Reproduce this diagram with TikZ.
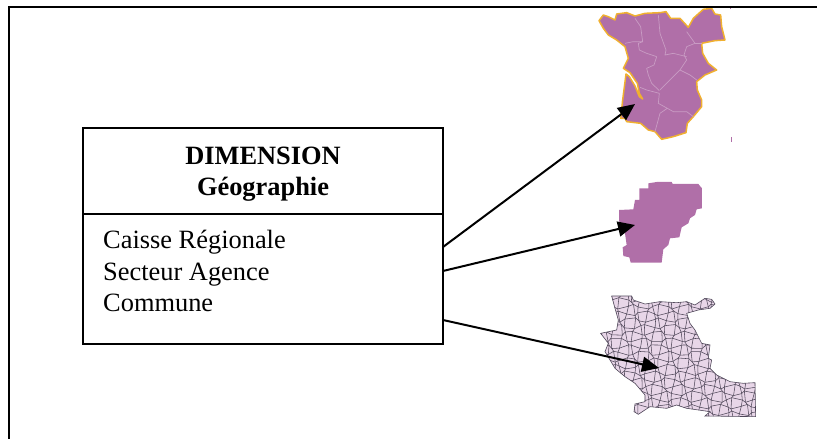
\documentclass[tikz,border=0pt]{standalone}
\usepackage{fontspec}
\setmainfont{Liberation Serif}
\usetikzlibrary{arrows.meta}
\definecolor{mapclr}{HTML}{B06FA8}
\definecolor{mapline}{HTML}{C99CC4}
\definecolor{mapedge}{HTML}{F0B030}
\definecolor{communeclr}{HTML}{E8D6E8}
\definecolor{communeline}{HTML}{50485A}
\newcommand{\communeoutline}{(125,48) -- (185,48) -- (190,60) -- (225,72) -- (270,65) -- (320,68) -- (350,65) -- (375,75) -- (405,55) -- (425,58) -- (435,72) -- (420,85) -- (385,90) -- (350,100) -- (360,130) -- (375,150) -- (395,190) -- (420,195) -- (415,235) -- (425,240) -- (420,265) -- (440,285) -- (480,305) -- (520,310) -- (555,308) -- (557,410) -- (405,408) -- (420,395) -- (385,390) -- (350,385) -- (320,375) -- (290,385) -- (240,380) -- (205,403) -- (192,395) -- (195,372) -- (225,365) -- (225,345) -- (195,310) -- (165,290) -- (135,265) -- (105,215) -- (115,190) -- (92,160) -- (140,150) -- (145,120) -- (135,85) -- cycle}
\tikzset{
    declare function={
        jx(\a,\b)=90+\a*20+7*sin(\a*127+\b*311);
        jy(\a,\b)=40+\b*20+7*sin(\a*271+\b*173);
    },
    zoomed/.style={x=0.3333pt,y=-0.3333pt},
    boxpart/.style={draw, line width=1.5pt, minimum width=360pt, inner sep=0pt},
    titletext/.style={font=\fontsize{26.4}{31.7}\selectfont\bfseries, anchor=base, inner sep=0pt},
    itemtext/.style={font=\fontsize{26.4}{31.7}\selectfont, anchor=base west, inner sep=0pt},
    maparrow/.style={-{Triangle[length=17pt,width=15pt]}, line width=2pt},
    zoneline/.style={mapline, line width=0.7pt},
}

\begin{document}
\begin{tikzpicture}[x=1pt,y=-1pt]
    \useasboundingbox (0,0) rectangle (817,439);

    % upper map
    \begin{scope}[shift={(580,0)},zoomed]
        \draw[fill=mapclr, draw=mapedge, line width=1.5pt, line join=round]
            (57,62) -- (70,45) -- (85,50) -- (105,60) -- (110,42) -- (140,38) -- (165,48) -- (195,40) -- (240,38) -- (258,35)
            -- (272,55) -- (300,55) -- (325,82) -- (340,55) -- (370,28) -- (395,25) -- (405,42) -- (422,45) -- (425,80) -- (435,120)
            -- (405,122) -- (365,130) -- (368,160) -- (385,190) -- (410,210) -- (375,225) -- (350,245) -- (352,270) -- (365,300)
            -- (365,320) -- (340,350) -- (322,370) -- (318,398) -- (280,410) -- (245,418) -- (225,395) -- (205,390) -- (182,370)
            -- (140,365) -- (135,355) -- (122,355) -- (128,300) -- (138,222) -- (148,230) -- (165,258) -- (178,290) -- (188,297)
            -- (178,280) -- (172,250) -- (150,218) -- (130,205) -- (145,175) -- (135,140) -- (110,120) -- (85,105) -- (70,85) -- cycle;
        \draw[zoneline] (165,55) -- (182,80) -- (188,125) -- (175,130) -- (178,150) -- (200,160) -- (230,170);
        \draw[zoneline] (235,45) -- (240,100) -- (258,150) -- (255,165) -- (280,160) -- (320,170);
        \draw[zoneline] (320,95) -- (345,130) -- (320,140) -- (312,165) -- (320,180) -- (300,210) -- (270,240) -- (240,270);
        \draw[zoneline] (230,170) -- (222,195) -- (200,205) -- (205,225) -- (215,250) -- (238,272);
        \draw[zoneline] (345,130) -- (365,130);
        \draw[zoneline] (300,210) -- (330,225) -- (350,240);
        \draw[zoneline] (135,130) -- (160,125) -- (188,125);
        \draw[zoneline] (180,262) -- (200,270) -- (238,280) -- (235,310) -- (262,325) -- (240,340) -- (225,395);
        \draw[zoneline] (262,325) -- (280,335) -- (320,335) -- (340,350);
        \draw[mapclr, line width=0.7pt] (452,22) -- (452,26);
        \draw[mapclr, line width=0.7pt] (454,411) -- (454,425);
    \end{scope}

    % middle map
    \begin{scope}[shift={(580,150)},zoomed]
        \fill[mapclr] (117,180) -- (160,178) -- (165,150) -- (178,150) -- (178,115) -- (205,115) -- (205,100) -- (230,96) -- (275,96)
            -- (278,102) -- (355,102) -- (366,115) -- (366,175) -- (350,178) -- (345,195) -- (330,205) -- (325,220) -- (305,232)
            -- (298,262) -- (270,265) -- (265,285) -- (250,298) -- (245,338) -- (152,338) -- (148,322) -- (130,318) -- (128,292)
            -- (140,285) -- (135,250) -- (118,225) -- cycle;
    \end{scope}

    % lower map
    \begin{scope}[shift={(570,280)},zoomed]
        \fill[communeclr] \communeoutline;
        \begin{scope}
            \clip \communeoutline;
            \foreach \i in {0,...,24} {
                \foreach \j in {0,...,19} {
                    \draw[communeline, line width=0.55pt] ({jx(\i,\j)},{jy(\i,\j)}) -- ({jx(\i+1,\j)},{jy(\i+1,\j)});
                    \draw[communeline, line width=0.55pt] ({jx(\i,\j)},{jy(\i,\j)}) -- ({jx(\i,\j+1)},{jy(\i,\j+1)});
                }
            }
        \end{scope}
        \draw[communeline, line width=0.6pt] \communeoutline;
    \end{scope}

    % frame
    \draw[line width=2pt] (817,7) -- (9,7) -- (9,439);

    % box
    \node[boxpart, minimum height=86pt] (titlebox) at (263,171) {};
    \node[boxpart, minimum height=130pt] (attrbox) at (263,279) {};
    \node[titletext] (dimname) at (263,164) {DIMENSION};
    \node[titletext] (geoname) at (263,195) {Géographie};
    \node[itemtext] (caisse) at (103,248) {Caisse Régionale};
    \node[itemtext] (secteur) at (103,280) {Secteur Agence};
    \node[itemtext] (commune) at (103,311) {Commune};

    % arrows
    \coordinate (outone) at (443,247);
    \coordinate (outtwo) at (443,271);
    \coordinate (outthree) at (443,320);
    \coordinate (mapone) at (635,104);
    \coordinate (maptwo) at (635,225);
    \coordinate (mapthree) at (659,368);
    \draw[maparrow] (outone) -- (mapone);
    \draw[maparrow] (outtwo) -- (maptwo);
    \draw[maparrow] (outthree) -- (mapthree);
\end{tikzpicture}
\end{document}
